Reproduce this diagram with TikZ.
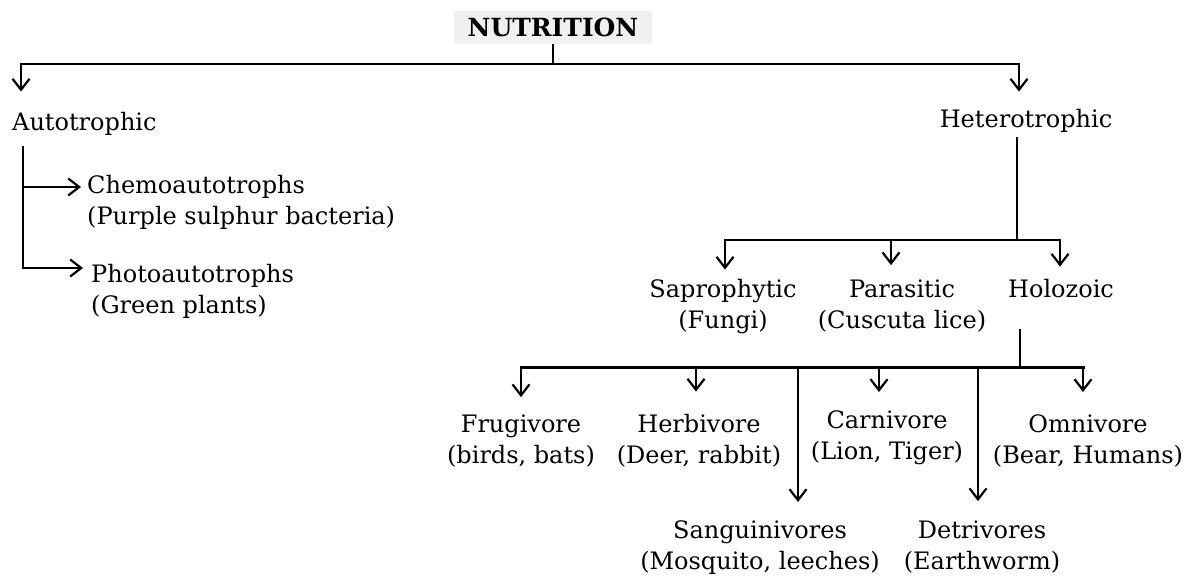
\documentclass[tikz,border=0pt]{standalone}
\usepackage{fontspec}
\setmainfont{DejaVu Serif}
\usetikzlibrary{positioning,arrows.meta}

\begin{document}
\begin{tikzpicture}[
  x=1pt, y=-1pt,
  font=\fontsize{24}{31}\selectfont,
  >={Straight Barb[length=11pt,width=17pt]},
  item/.style={inner sep=0pt, align=center, anchor=base},
  leftitem/.style={inner sep=0pt, align=left, anchor=base west},
  rootbox/.style={fill=gray!12, inner sep=0pt,
                  minimum width=198pt, minimum height=33pt,
                  font=\fontsize{25}{30}\selectfont\bfseries},
  bus/.style={line width=2.5pt, line cap=rect},
  arr/.style={->, line width=2.2pt},
  stem/.style={line width=1.6pt},
]
\useasboundingbox (0,0) rectangle (1189,576);

% ---- Root ----
\node[rootbox] (nutri) at (553,27.5) {NUTRITION};

% ---- First level ----
\node[leftitem] (auto) at (12,130) {Autotrophic};
\node[item] (hetero) at (1026,127) {Heterotrophic};

% ---- Autotrophic branch ----
% (base of a two-line node sits on its last line)
\node[leftitem] (chemo) at (87,224) {Chemoautotrophs\\(Purple sulphur bacteria)};
\node[leftitem] (photo) at (91,313) {Photoautotrophs\\(Green plants)};

% ---- Heterotrophic branch ----
\node[item] (sapro) at (723,328) {Saprophytic\\(Fungi)};
\node[item] (para) at (902,328) {Parasitic\\(Cuscuta lice)};
\node[item] (holo) at (1061,297) {Holozoic};

% ---- Holozoic branch ----
\node[item] (frugi) at (521,463) {Frugivore\\(birds, bats)};
\node[item] (herbi) at (699,463) {Herbivore\\(Deer, rabbit)};
\node[item] (carni) at (887,459) {Carnivore\\(Lion, Tiger)};
\node[item] (omni) at (1088,463) {Omnivore\\(Bear, Humans)};
\node[item] (sangui) at (760,569) {Sanguinivores\\(Mosquito, leeches)};
\node[item] (detri) at (982,569) {Detrivores\\(Earthworm)};

% Bus joints
\coordinate (tL) at (21,64);
\coordinate (tR) at (1019,64);
\coordinate (aA) at (23,187);
\coordinate (aB) at (23,268);
\coordinate (hJ) at (1017,240);
\coordinate (m1) at (725,240);
\coordinate (m2) at (891,240);
\coordinate (m3) at (1060,240);
\coordinate (lJ) at (1020,367);
\coordinate (b1) at (521,367);
\coordinate (b2) at (696,367);
\coordinate (b3) at (798,367);
\coordinate (b4) at (879,367);
\coordinate (b5) at (978,367);
\coordinate (b6) at (1083,367);

% Root split
\draw[stem] (nutri.south) -- (nutri.south |- tL);
\draw[bus] (tL) -- (tR);
\draw[arr, shorten >=20pt] (tL) -- (tL |- auto.north);
\draw[arr, shorten >=17pt] (tR) -- (tR |- hetero.north);

% Autotrophic arrows
\draw[bus, shorten <=12pt] (auto.south -| aA) -- (aB);
\draw[arr, shorten >=6pt] (aA) -- (aA -| chemo.west);
\draw[arr, shorten >=8pt] (aB) -- (aB -| photo.west);

% Heterotrophic arrows
\draw[stem, shorten <=5pt] (hetero.south -| hJ) -- (hJ);
\draw[bus] (m1) -- (m3);
\draw[arr, shorten >=9pt] (m1) -- (m1 |- sapro.north);
\draw[arr, shorten >=14pt] (m2) -- (m2 |- para.north);
\draw[arr, shorten >=12pt] (m3) -- (m3 |- holo.north);

% Holozoic arrows
\draw[stem, shorten <=31pt] (holo.south -| lJ) -- (lJ);
\draw[bus, line width=3pt] (b1) -- (b6);
\draw[arr, shorten >=17pt] (b1) -- (b1 |- frugi.north);
\draw[arr, shorten >=22pt] (b2) -- (b2 |- herbi.north);
\draw[arr, shorten >=18pt] (b3) -- (b3 |- sangui.north);
\draw[arr, shorten >=18pt] (b4) -- (b4 |- carni.north);
\draw[arr, shorten >=19pt] (b5) -- (b5 |- detri.north);
\draw[arr, shorten >=22pt] (b6) -- (b6 |- omni.north);

\end{tikzpicture}
\end{document}
